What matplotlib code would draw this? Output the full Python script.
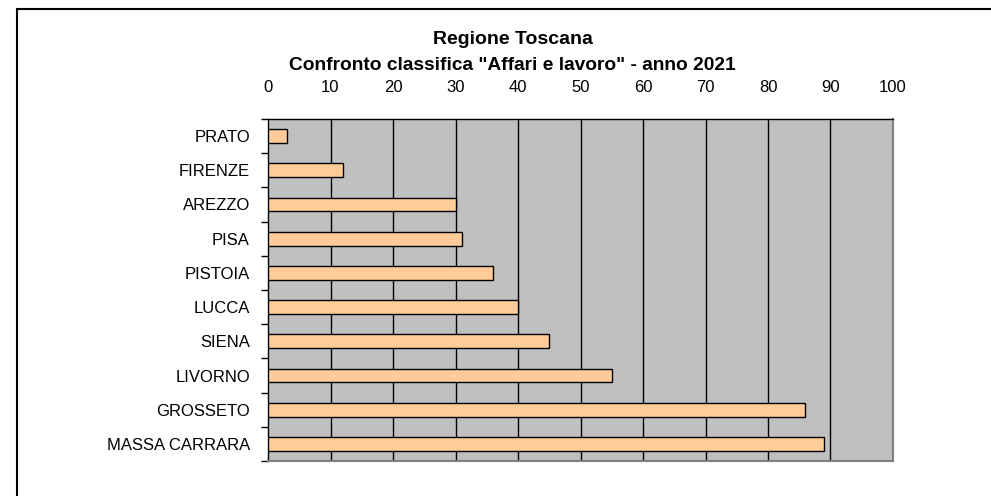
import matplotlib
matplotlib.use("Agg")
import matplotlib.pyplot as plt
from matplotlib.lines import Line2D
import numpy as np

plt.rcParams['font.family'] = ['Liberation Sans', 'DejaVu Sans']

categories = ["PRATO", "FIRENZE", "AREZZO", "PISA", "PISTOIA", "LUCCA",
              "SIENA", "LIVORNO", "GROSSETO", "MASSA CARRARA"]
values = [3, 12, 30, 31, 36, 40, 45, 55, 86, 89]
x_ticks = [0, 10, 20, 30, 40, 50, 60, 70, 80, 90, 100]
title1 = "Regione Toscana"
title2 = 'Confronto classifica "Affari e lavoro" - anno 2021'

W, H = 991, 496
fig = plt.figure(figsize=(W / 100, H / 100), dpi=100)
fig.patch.set_facecolor("white")

# outer frame (left and top edges visible)
fig.add_artist(Line2D([17 / W, 17 / W], [0, 1 - 9 / H], color="black", lw=1.5,
                      transform=fig.transFigure))
fig.add_artist(Line2D([17 / W, 1], [1 - 9 / H, 1 - 9 / H], color="black", lw=1.5,
                      transform=fig.transFigure))

left, right, top, bottom = 268, 893, 119, 461
ax = fig.add_axes([left / W, 1 - bottom / H, (right - left) / W, (bottom - top) / H])
ax.set_facecolor("#C0C0C0")

y = np.arange(len(categories))
ax.barh(y, values, height=0.4, color="#FFCC99", edgecolor="black", linewidth=1, zorder=3)

ax.set_xlim(0, 100)
ax.set_ylim(len(categories) - 0.5, -0.5)
ax.set_xticks(x_ticks)
ax.xaxis.tick_top()
ax.tick_params(axis="x", length=0, pad=17.5, labelsize=12)
ax.set_yticks(y)
ax.set_yticklabels(categories)
ax.tick_params(axis="y", which="major", length=0, pad=13, labelsize=12)
ax.set_yticks(np.arange(-0.5, len(categories) + 0.5, 1), minor=True)
ax.tick_params(axis="y", which="minor", length=5, width=1, color="black", direction="out")

for v in x_ticks[1:-1]:
    ax.axvline(v, color="black", lw=1, zorder=1)

ax.spines["top"].set_color("black")
ax.spines["left"].set_color("black")
ax.spines["right"].set_color("#808080")
ax.spines["bottom"].set_color("#808080")
for s in ["top", "left"]:
    ax.spines[s].set_linewidth(1)
for s in ["right", "bottom"]:
    ax.spines[s].set_linewidth(1.5)

fig.text(513 / W, 1 - 39 / H, title1, ha="center", va="center", fontsize=14, fontweight="bold")
fig.text(512 / W, 1 - 65 / H, title2, ha="center", va="center", fontsize=13.8, fontweight="bold")

fig.savefig("out.png", dpi=100)
